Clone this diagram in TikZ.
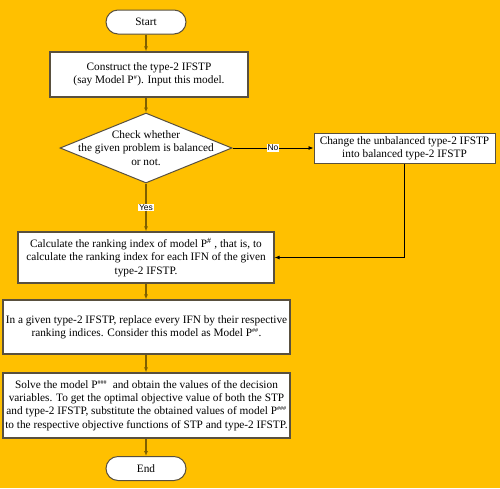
\documentclass[tikz,border=0pt]{standalone}
\usepackage{fontspec}
\setmainfont{Liberation Serif}
\newfontfamily\labelfont{Liberation Sans}
\usetikzlibrary{shapes.geometric,arrows.meta}
\definecolor{bg}{RGB}{255,192,0}
\definecolor{flow}{RGB}{127,96,0}
\definecolor{frame}{RGB}{89,80,62}
\newcommand{\hashsup}[1]{\textsuperscript{\fontsize{6}{6}\selectfont #1}}
\begin{document}
\begin{tikzpicture}[x=1pt, y=-1pt, font=\fontsize{11.3}{13.2}\selectfont,
	term/.style = {draw=frame, line width=1pt, fill=white, rounded corners=12pt, minimum width=80pt, minimum height=24pt, inner sep=1pt},
	process/.style = {draw=frame, line width=1.2pt, fill=white, align=center, inner sep=1pt},
	decision/.style = {draw=frame, line width=1pt, fill=white, diamond, minimum width=172pt, minimum height=70pt, inner sep=0pt},
	flowline/.style = {draw=flow, line width=1.5pt, -{Latex[length=5pt,width=4pt]}},
	thinline/.style = {draw=black, line width=0.8pt, -{Latex[length=5pt,width=4pt]}},
	tag/.style = {fill=white, inner sep=0.6pt, font=\labelfont\fontsize{8.5}{9}\selectfont}]
	\useasboundingbox[fill=bg] (0,0) rectangle (500,488);
	\node[term] (start) at (146, 22) {Start};
	\node[process, minimum width=198pt, minimum height=45pt] (construct) at (149, 74.5) {Construct the type-2 IFSTP\\(say Model P\hashsup{\#}). Input this model.};
	\node[decision, label={[align=center, font=\fontsize{11.3}{13.5}\selectfont]center:Check whether\\the given problem is balanced\\or not.}] (check) at (146, 148) {};
	\node[process, minimum width=181pt, minimum height=30pt, line width=1pt] (change) at (404.5, 148) {Change the unbalanced type-2 IFSTP\\into balanced type-2 IFSTP};
	\node[process, minimum width=256pt, minimum height=51pt] (rank) at (146, 257.5) {Calculate the ranking index of model P\textsuperscript{\#} , that is, to\\calculate the ranking index for each IFN of the given\\type-2 IFSTP.};
	\node[process, minimum width=287pt, minimum height=54pt] (replace) at (146.5, 327) {In a given type-2 IFSTP, replace every IFN by their respective\\ranking indices. Consider this model as Model P\hashsup{\#\#}.};
	\node[process, minimum width=287pt, minimum height=65pt] (solve) at (146.5, 405.5) {Solve the model P\hashsup{\#\#\#} \ and obtain the values of the decision\\variables. To get the optimal objective value of both the STP\\and type-2 IFSTP, substitute the obtained values of model P\hashsup{\#\#\#}\\to the respective objective functions of STP and type-2 IFSTP.};
	\node[term] (end) at (146, 468.5) {End};
	\draw[flowline] (start.south) -- (start.south |- construct.north);
	\draw[flowline] (check.north |- construct.south) -- (check.north);
	\draw[flowline] (check.south) -- node[tag] {Yes} (rank.north);
	\draw[flowline] (rank.south) -- (rank.south |- replace.north);
	\draw[flowline] (rank.south |- replace.south) -- (rank.south |- solve.north);
	\draw[flowline] (end.north |- solve.south) -- (end.north);
	\draw[thinline] (check.east) -- node[tag] {No} (change.west);
	\draw[thinline] (change.south) |- (rank.east);
\end{tikzpicture}
\end{document}
